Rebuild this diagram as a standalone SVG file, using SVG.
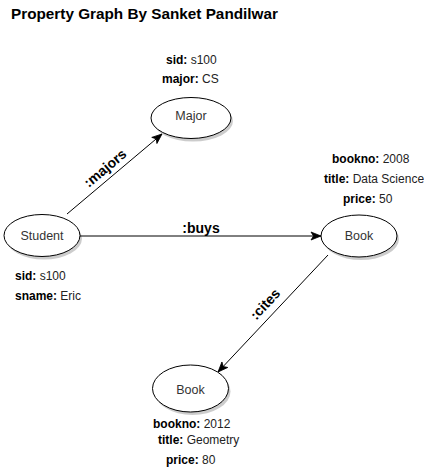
<svg xmlns="http://www.w3.org/2000/svg" width="424" height="470" viewBox="0 0 424 470">
<style>
text{font-family:"Liberation Sans",Arial,sans-serif}
.title{font-size:15.3px;font-weight:bold;fill:#000}
.prop{font-size:12px;fill:#222}
.prop tspan.k{font-weight:bold;fill:#000}
.nlabel{font-size:12.5px;fill:#333;text-anchor:middle}
.elabel{font-size:14px;font-weight:bold;fill:#000;text-anchor:middle}
.node{fill:#fff;stroke:#000;stroke-width:1}
.shadow{fill:#000;fill-opacity:0.2;stroke:none}
.edge{stroke:#000;stroke-width:1;fill:none;marker-end:url(#arrow)}
</style>
<defs>
<marker id="arrow" markerUnits="userSpaceOnUse" viewBox="-11 -5 12 10" markerWidth="12" markerHeight="10" refX="0" refY="0" orient="auto">
<path d="M0,0 L-10,-4 L-7.5,0 L-10,4 Z" fill="#000" stroke="#000" stroke-width="0.8"/>
</marker>
</defs>
<rect width="424" height="470" fill="#fff"/>
<text class="title" x="11" y="19">Property Graph By Sanket Pandilwar</text>

<g id="connectors">
<path class="edge" d="M67,214 L162,134"/>
<path class="edge" d="M80,236 L321,236"/>
<path class="edge" d="M328,255 L218,372"/>
<text class="elabel" transform="translate(105,168) rotate(-40)" x="0" y="5">:majors</text>
<text class="elabel" x="201" y="233">:buys</text>
<text class="elabel" transform="translate(265,304) rotate(-47)" x="0" y="5">:cites</text>
</g>

<g id="major">
<ellipse class="shadow" cx="193" cy="121" rx="40" ry="20.5"/>
<ellipse class="node" cx="191" cy="118" rx="40" ry="20.5"/>
<text class="nlabel" x="191" y="120">Major</text>
<text class="prop" x="166" y="64"><tspan class="k">sid:</tspan> s100</text>
<text class="prop" x="162" y="83"><tspan class="k">major:</tspan> CS</text>
</g>

<g id="student">
<ellipse class="shadow" cx="44" cy="238.5" rx="38" ry="21"/>
<ellipse class="node" cx="42" cy="235.5" rx="38" ry="21"/>
<text class="nlabel" x="42" y="239.5">Student</text>
<text class="prop" x="15" y="280"><tspan class="k">sid:</tspan> s100</text>
<text class="prop" x="15" y="300"><tspan class="k">sname:</tspan> Eric</text>
</g>

<g id="book1">
<ellipse class="shadow" cx="361" cy="239" rx="38" ry="21"/>
<ellipse class="node" cx="359" cy="236" rx="38" ry="21"/>
<text class="nlabel" x="359" y="240">Book</text>
<text class="prop" x="332" y="163"><tspan class="k">bookno:</tspan> 2008</text>
<text class="prop" x="324" y="183"><tspan class="k">title:</tspan> Data Science</text>
<text class="prop" x="343" y="203"><tspan class="k">price:</tspan> 50</text>
</g>

<g id="book2">
<ellipse class="shadow" cx="192.5" cy="391.5" rx="38" ry="23.5"/>
<ellipse class="node" cx="190.5" cy="388.5" rx="38" ry="23.5"/>
<text class="nlabel" x="190.5" y="394">Book</text>
<text class="prop" x="153" y="428"><tspan class="k">bookno:</tspan> 2012</text>
<text class="prop" x="158" y="444"><tspan class="k">title:</tspan> Geometry</text>
<text class="prop" x="166" y="464"><tspan class="k">price:</tspan> 80</text>
</g>
</svg>
